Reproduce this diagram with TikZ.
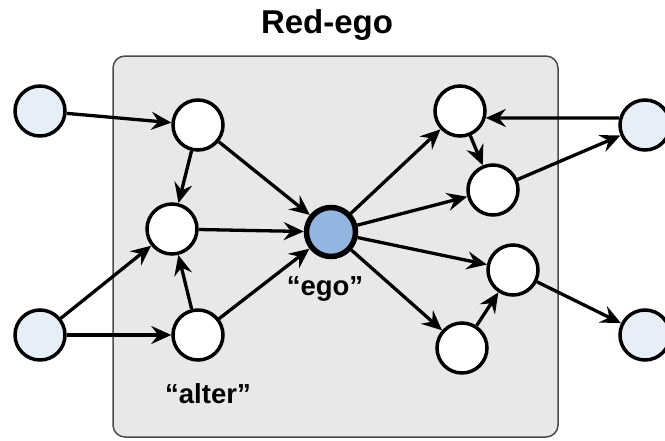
\documentclass[tikz,border=0pt]{standalone}
\usepackage{fontspec}
\setmainfont{Liberation Sans}
\usetikzlibrary{arrows.meta}
\definecolor{boxfill}{HTML}{E8E8E8}
\definecolor{boxline}{HTML}{4A4A4A}
\definecolor{outerfill}{HTML}{E6EEF8}
\definecolor{egofill}{HTML}{93B6E0}
\tikzset{
  inner/.style={circle, draw=black, line width=3.5pt, fill=white, minimum size=50pt, inner sep=0pt},
  outer/.style={inner, fill=outerfill},
  egonode/.style={inner, fill=egofill, line width=5.5pt, minimum size=49pt},
  edge/.style={line width=3.3pt, -{Stealth[length=20pt, width=18pt, inset=7pt]}},
  lbl/.style={font=\bfseries\fontsize{27.5}{32}\selectfont, inner sep=0pt, anchor=base}
}
\begin{document}
\begin{tikzpicture}[x=1pt, y=-1pt]
\useasboundingbox (0,0) rectangle (665,440);
\fill[white] (0,0) rectangle (665,440);
\node[font=\bfseries\fontsize{33}{38}\selectfont, inner sep=0pt, anchor=base] (title) at (327,33) {Red-ego};
\draw[fill=boxfill, draw=boxline, line width=1.5pt, rounded corners=12pt] (113,56) rectangle (558,437);

\node[outer] (L1) at (40,111) {};
\node[outer] (L2) at (40,335) {};
\node[inner] (A) at (198,125) {};
\node[inner] (B) at (172,229) {};
\node[inner] (C) at (198,335) {};
\node[egonode] (ego) at (331,232) {};
\node[inner] (D) at (460,111) {};
\node[inner] (E) at (493,190) {};
\node[inner] (F) at (513,270) {};
\node[inner] (G) at (462,348) {};
\node[outer] (R1) at (645,125) {};
\node[outer] (R2) at (645,335) {};

\node[lbl] (egolabel) at (325,295) {“ego”};
\node[lbl] (alterlabel) at (208,403) {“alter”};

\draw[edge] (L1) -- (A);
\draw[edge] (A) -- (B);
\draw[edge] (A) -- (ego);
\draw[edge] (B) -- (ego);
\draw[edge] (C) -- (B);
\draw[edge] (C) -- (ego);
\draw[edge] (L2) -- (B);
\draw[edge] (L2) -- (C);
\draw[edge] (ego) -- (D);
\draw[edge] (ego) -- (E);
\draw[edge] (ego) -- (F);
\draw[edge] (ego) -- (G);
\draw[edge] (D) -- (E);
\draw[edge] (R1.165) -- (D.-15);
\draw[edge] (E) -- (R1);
\draw[edge] (G) -- (F);
\draw[edge] (F) -- (R2);
\end{tikzpicture}
\end{document}
